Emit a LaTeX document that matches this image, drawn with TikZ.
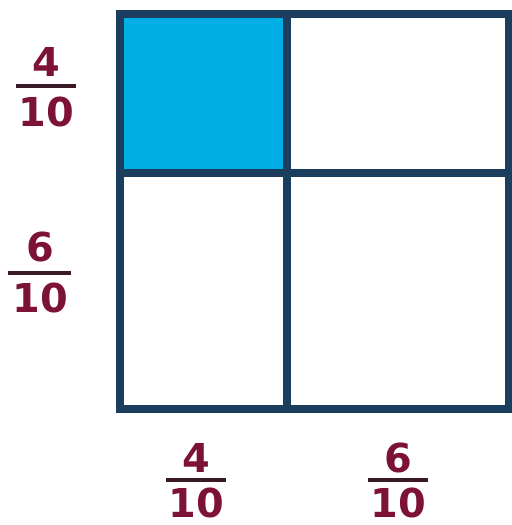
\documentclass[tikz,border=0pt]{standalone}
\usepackage{fontspec}
\setmainfont{DejaVu Sans}
\definecolor{frame}{HTML}{1B3D5E}
\definecolor{cellblue}{HTML}{00AEE6}
\definecolor{lab}{HTML}{7D1238}
\definecolor{barc}{HTML}{3A1A28}
\begin{document}
\begin{tikzpicture}[x=1bp,y=-1bp,
  dig/.style={inner sep=0pt, text=lab, font=\fontsize{40}{44}\selectfont\bfseries},
  fbar/.style={draw=barc, line width=3.5bp},
  grid/.style={draw=frame, line width=8bp}]
\useasboundingbox (0,0) rectangle (512,525);
% shaded cell
\fill[cellblue] (120,14) rectangle (287,173);
% frame and dividers
\draw[grid] (120,14) rectangle (509,409);
\draw[grid] (287,14) -- (287,409);
\draw[grid] (120,173) -- (509,173);
% left 4/10
\node[dig] (ln1) at (46,62) {4};
\node[dig] (ld1) at (46,112) {10};
\coordinate (lb1a) at (16,86); \coordinate (lb1b) at (76,86);
\draw[fbar] (lb1a) -- (lb1b);
% left 6/10
\node[dig] (ln2) at (40,247) {6};
\node[dig] (ld2) at (40,298) {10};
\coordinate (lb2a) at (8,273); \coordinate (lb2b) at (71,273);
\draw[fbar] (lb2a) -- (lb2b);
% bottom 4/10
\node[dig] (bn1) at (196,458) {4};
\node[dig] (bd1) at (196,503) {10};
\coordinate (bb1a) at (166,480); \coordinate (bb1b) at (226,480);
\draw[fbar] (bb1a) -- (bb1b);
% bottom 6/10
\node[dig] (bn2) at (398,458) {6};
\node[dig] (bd2) at (398,503) {10};
\coordinate (bb2a) at (368,480); \coordinate (bb2b) at (428,480);
\draw[fbar] (bb2a) -- (bb2b);
\end{tikzpicture}
\end{document}
